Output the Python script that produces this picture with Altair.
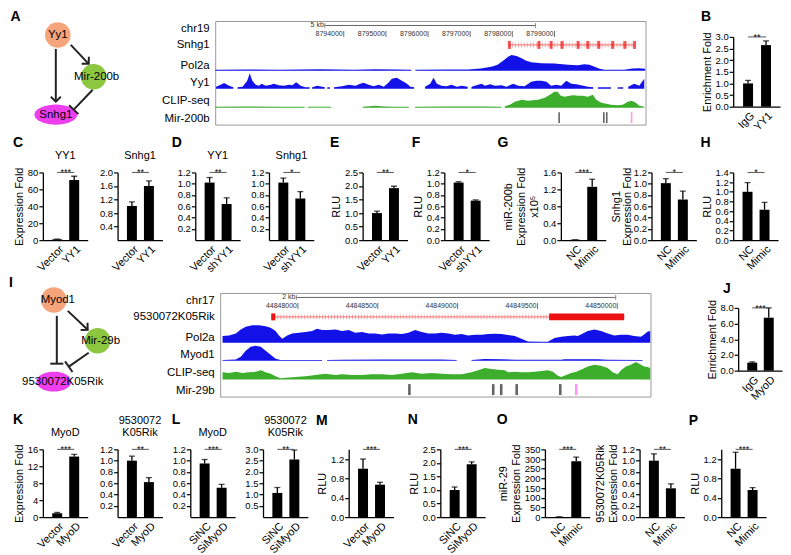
import math
import altair as alt
import pandas as pd

FONT = "Liberation Sans"
BLUE = "#1212e8"
GREEN = "#3cae2c"
RED = "#ee1111"
LIGHTRED = "#f28a8a"
PINK = "#ff66ee"

# ===================== bar-chart panels (mean, sd) =====================
B_cats = ["IgG", "YY1"];       B_vals = [1.0, 2.65];   B_err = [0.13, 0.18]
C1_cats = ["Vector", "YY1"];   C1_vals = [1.0, 71.0];  C1_err = [0.3, 4.5]
C2_cats = ["Vector", "YY1"];   C2_vals = [1.01, 1.60]; C2_err = [0.12, 0.15]
D1_cats = ["Vector", "shYY1"]; D1_vals = [1.02, 0.64]; D1_err = [0.09, 0.11]
D2_cats = ["Vector", "shYY1"]; D2_vals = [1.02, 0.74]; D2_err = [0.08, 0.12]
E_cats = ["Vector", "YY1"];    E_vals = [1.0, 1.92];   E_err = [0.07, 0.07]
F_cats = ["Vector", "shYY1"];  F_vals = [1.02, 0.70];  F_err = [0.015, 0.012]
G1_cats = ["NC", "Mimic"];     G1_vals = [0.01, 1.26]; G1_err = [0.0, 0.18]
G2_cats = ["NC", "Mimic"];     G2_vals = [1.01, 0.72]; G2_err = [0.08, 0.15]
H_cats = ["NC", "Mimic"];      H_vals = [1.0, 0.63];   H_err = [0.19, 0.15]
J_cats = ["IgG", "MyoD"];      J_vals = [1.02, 6.75];  J_err = [0.1, 1.25]
K1_cats = ["Vector", "MyoD"];  K1_vals = [0.9, 14.3];  K1_err = [0.2, 0.5]
K2_cats = ["Vector", "MyoD"];  K2_vals = [1.0, 0.62];  K2_err = [0.08, 0.08]
L1_cats = ["SiNC", "SiMyoD"];  L1_vals = [0.95, 0.52]; L1_err = [0.07, 0.06]
L2_cats = ["SiNC", "SiMyoD"];  L2_vals = [1.07, 2.55]; L2_err = [0.24, 0.42]
M_cats = ["Vector", "MyoD"];   M_vals = [1.0, 0.67];   M_err = [0.2, 0.05]
N_cats = ["SiNC", "SiMyoD"];   N_vals = [1.0, 1.95];   N_err = [0.11, 0.09]
O1_cats = ["NC", "Mimic"];     O1_vals = [1.0, 288.0]; O1_err = [0.5, 22.0]
O2_cats = ["NC", "Mimic"];     O2_vals = [1.0, 0.51];  O2_err = [0.12, 0.08]
P_cats = ["NC", "Mimic"];      P_vals = [1.0, 0.56];   P_err = [0.34, 0.05]

# ===================== network diagrams (diagram units) =====================
A_names = ["Yy1", "Mir-200b", "Snhg1"]
A_x = [49, 85, 47]; A_y = [14, 56, 94]
A_tx = [49, 88, 47]; A_ty = [14, 56, 94]
A_fill = ["#f6a47b", "#8dc63f", "#ee3fee"]
A_shape = ["circle", "circle", "ellipse"]
A_e_x1 = [62, 47, 84]; A_e_y1 = [24, 28, 69]
A_e_x2 = [80, 47, 65]; A_e_y2 = [43, 81, 89]
A_e_kind = ["arrow", "arrow", "bar"]

I_names = ["Myod1", "Mir-29b", "9530072K05Rik"]
I_x = [45, 89, 45]; I_y = [7, 48, 89]
I_tx = [49, 92, 54]; I_ty = [7, 48, 89]
I_fill = ["#f6a47b", "#8dc63f", "#ee3fee"]
I_shape = ["circle", "circle", "ellipse"]
I_e_x1 = [59, 48, 80]; I_e_y1 = [18, 23, 60]
I_e_x2 = [79, 48, 60]; I_e_y2 = [37, 71, 74]
I_e_kind = ["arrow", "bar", "bar"]

# ===================== genome browser 1 (chr19, kb) =====================
W1_start, W1_end = 8790.95, 8801.16
W1_ruler = (8793.55, 8798.55); W1_ruler_text = "5 kb"
W1_coords = [8794.0, 8795.0, 8796.0, 8797.0, 8798.0, 8799.0]
W1_coord_text = ["8794000", "8795000", "8796000", "8797000", "8798000", "8799000"]
W1_gene = (8797.92, 8800.90)
W1_exons = [8797.93, 8798.63, 8798.92, 8799.18, 8799.56, 8799.79, 8800.05, 8800.38, 8800.67, 8800.90]
W1_mir_black = [8799.11, 8800.17, 8800.24]
W1_mir_pink = [8800.83]
W1_names = ["Mir-200b", "CLIP-seq", "Yy1", "Pol2a", "Snhg1", "chr19"]
# signals: segments of (offset kb from window start, height)
W1_pol2a = [
    [(0.0, 1.0), (0.8, 1.3), (1.5, 1.0), (2.5, 1.5), (3.3, 1.0), (3.8, 1.7), (4.3, 1.3), (4.65, 1.0)],
    [(4.75, 1.0), (5.5, 1.2), (6.0, 1.3), (6.3, 2.3), (6.55, 4.0), (6.7, 6.0), (6.83, 10.0), (6.95, 14.0),
     (7.03, 16.0), (7.15, 15.0), (7.27, 12.7), (7.38, 10.0), (7.5, 8.7), (7.74, 7.7), (8.05, 7.3), (8.37, 6.0),
     (8.6, 5.7), (8.76, 6.7), (8.88, 6.0), (9.0, 4.0), (9.12, 2.0), (9.24, 1.0), (9.7, 1.0), (9.9, 2.3),
     (10.05, 2.7), (10.2, 2.0)],
]
W1_yy1 = [
    [(0.02, 2), (0.13, 4), (0.21, 5.7), (0.33, 3), (0.43, 1.5)],
    [(0.53, 1.5), (0.65, 2), (0.76, 8), (0.82, 15.5), (0.88, 8), (0.96, 4), (1.04, 3), (1.10, 5), (1.20, 3),
     (1.32, 4), (1.39, 5), (1.51, 3.5), (1.63, 3), (1.75, 4), (1.83, 3.5), (1.92, 6.5), (2.03, 3), (2.14, 1.5),
     (2.24, 1.5)],
    [(2.30, 1.5), (2.42, 3), (2.60, 1.5)],
    [(2.66, 1.5), (2.72, 1.5)],
    [(2.82, 1.5), (3.01, 2.5), (3.17, 4), (3.33, 3), (3.44, 5), (3.52, 6), (3.64, 4), (3.76, 2.5), (3.88, 4),
     (4.00, 2), (4.11, 6), (4.19, 10), (4.31, 11), (4.39, 9), (4.47, 7), (4.55, 5), (4.63, 2), (4.72, 1.5)],
    [(4.98, 2), (5.10, 5), (5.18, 11), (5.26, 5), (5.37, 3), (5.49, 2.5), (5.61, 4), (5.73, 2), (5.85, 3),
     (5.99, 2)],
    [(6.08, 2), (6.24, 4), (6.32, 5), (6.40, 3), (6.52, 4.5), (6.64, 3), (6.79, 3.5), (6.91, 2), (7.07, 5),
     (7.19, 3), (7.34, 2.5), (7.50, 7), (7.62, 8), (7.74, 8), (7.86, 7), (7.97, 3), (8.09, 4), (8.21, 3),
     (8.33, 8), (8.45, 5), (8.57, 4.5), (8.68, 3.5), (8.84, 2), (8.97, 1.5)],
    [(9.08, 1.5), (9.39, 1.5)],
    [(9.55, 1.5), (9.68, 1.5)],
    [(9.80, 2), (9.94, 5), (10.06, 3), (10.18, 10)],
]
W1_clip = [
    [(0.0, 1), (0.65, 1.3), (0.88, 1.3), (1.5, 1), (2.12, 1)],
    [(2.2, 1), (2.75, 1)],
    [(3.5, 1), (3.80, 2), (4.03, 1.3), (4.27, 1), (4.59, 1)],
    [(4.74, 1), (5.37, 1.3), (5.85, 1.3), (6.40, 1.3), (6.79, 1)],
    [(6.87, 1.5), (6.99, 3), (7.11, 6), (7.27, 8), (7.42, 7), (7.54, 7.5), (7.66, 8), (7.74, 9), (7.82, 10),
     (7.94, 13), (8.05, 16), (8.12, 16), (8.20, 12), (8.29, 11), (8.41, 12), (8.49, 12.5), (8.61, 12),
     (8.72, 12), (8.84, 11), (8.96, 13), (9.04, 8), (9.16, 5), (9.28, 4), (9.39, 3), (9.55, 2.5), (9.67, 3),
     (9.79, 6), (9.88, 7), (9.98, 5), (10.06, 2), (10.18, 1)],
]

# ===================== genome browser 2 (chr17, kb) =====================
W2_start, W2_end = 44847.513, 44850.208
W2_ruler = (44847.99, 44849.99); W2_ruler_text = "2 kb"
W2_coords = [44848.0, 44848.5, 44849.0, 44849.5, 44850.0]
W2_coord_text = ["44848000", "44848500", "44849000", "44849500", "44850000"]
W2_gene = (44847.833, 44850.043)
W2_blocks = [(44847.833, 44847.858), (44849.573, 44850.043)]
W2_mir_black = [44848.698, 44849.223, 44849.273, 44849.370, 44849.643]
W2_mir_pink = [44849.743]
W2_names = ["Mir-29b", "CLIP-seq", "Myod1", "Pol2a", "9530072K05Rik", "chr17"]
W2_pol2a = [[
    (0.015, 6.7), (0.056, 7.3), (0.098, 9.3), (0.129, 13.3), (0.160, 16), (0.202, 17.7), (0.243, 17.7),
    (0.285, 16.7), (0.316, 15), (0.347, 11.7), (0.368, 7.3), (0.389, 4), (0.420, 7.3), (0.451, 9.3),
    (0.493, 10), (0.534, 10.7), (0.576, 11.7), (0.607, 14), (0.638, 12.7), (0.680, 12.7), (0.722, 13.3),
    (0.763, 11.7), (0.805, 12.7), (0.846, 10), (0.888, 10.7), (0.930, 9.3), (0.971, 9.3), (1.013, 8.3),
    (1.054, 9.3), (1.096, 9.3), (1.137, 8.7), (1.179, 10), (1.221, 12.7), (1.262, 10.7), (1.304, 9.3),
    (1.345, 9.3), (1.387, 10), (1.429, 9.3), (1.470, 8), (1.512, 8.7), (1.553, 7.3), (1.595, 8), (1.637, 8),
    (1.678, 8.7), (1.720, 9), (1.761, 8.7), (1.803, 7.7), (1.845, 6.7), (1.886, 4), (1.928, 1.3), (2.011, 1),
    (2.052, 1), (2.094, 4.7), (2.136, 6), (2.177, 6.7), (2.219, 7.3), (2.240, 6.7), (2.271, 9.3), (2.302, 11.7),
    (2.344, 13.3), (2.385, 11.7), (2.427, 9.3), (2.468, 7.3), (2.510, 8), (2.551, 8), (2.593, 6.7),
    (2.635, 6), (2.655, 8.3), (2.676, 11), (2.693, 11.7)]]
W2_myod1 = [
    [(0.015, 0.7), (0.098, 1.3), (0.129, 4), (0.160, 10), (0.191, 14), (0.222, 15), (0.254, 14), (0.285, 10),
     (0.316, 6), (0.347, 2), (0.378, 0.7), (0.638, 0.7)],
    [(0.670, 0.7), (0.763, 1), (1.013, 1.2), (1.179, 1.3), (1.387, 1.2), (1.481, 0.7)],
    [(1.574, 0.7), (1.595, 1), (1.657, 1.7), (1.761, 1.5), (1.845, 1), (2.136, 1), (2.156, 1.5), (2.281, 1.5),
     (2.364, 1.5), (2.427, 1), (2.645, 0.7)],
]
W2_clip = [[
    (0.015, 7.3), (0.056, 6.7), (0.098, 8), (0.139, 6.7), (0.181, 7.3), (0.222, 8), (0.254, 9.3), (0.285, 7.3),
    (0.316, 6), (0.347, 3.3), (0.378, 1.3), (0.410, 2), (0.472, 2.7), (0.534, 3.3), (0.597, 4.7), (0.659, 6),
    (0.722, 4.7), (0.763, 5.3), (0.826, 4.7), (0.888, 4.7), (0.950, 5.3), (1.013, 5.3), (1.075, 4.7),
    (1.137, 6), (1.200, 7.3), (1.262, 6), (1.325, 6.7), (1.387, 6), (1.449, 5.3), (1.512, 5.3), (1.574, 7.3),
    (1.616, 9.3), (1.657, 11.7), (1.699, 10.7), (1.740, 10), (1.782, 9.3), (1.803, 7.3), (1.845, 8),
    (1.886, 7.3), (1.928, 7.3), (1.969, 8), (2.011, 8.7), (2.052, 9.3), (2.084, 8), (2.115, 4), (2.136, 2.7),
    (2.167, 4.7), (2.198, 6.7), (2.229, 8), (2.260, 10), (2.302, 13.3), (2.344, 15), (2.385, 14),
    (2.427, 11.7), (2.458, 7.3), (2.489, 5.3), (2.510, 9.3), (2.541, 13.3), (2.572, 15), (2.603, 17.7),
    (2.624, 16), (2.655, 13.3), (2.676, 12.7), (2.693, 11.7)]]

# ===================== layout constants =====================
TRACK_BASES = [54, 36, 17]
LABEL_Y = [6, 24, 42, 59, 80.5, 96]
RULER_Y, COORD_Y, GENE_Y, MIR_Y = 99.5, 91, 80, 7
CHEVRON = "M -1 1 L 0 0 L 1 1"
TBAR = "M -1 0 L 1 0"
NET_X0 = 34          # left edge of the diagram frame, in diagram units


def ellipse_path(aspect):
    pts = []
    for k in range(36):
        t = 2 * math.pi * k / 36
        pts.append(f"{math.cos(t):.3f} {aspect * math.sin(t):.3f}")
    return "M " + " L ".join(pts) + " Z"


def letter(t, offset=0, dx=0):
    return alt.TitleParams(text=t, fontSize=14, fontWeight="bold", anchor="start",
                           frame="bounds", offset=offset, dx=dx, font=FONT)


def sub_title(t):
    return alt.TitleParams(text=t, fontSize=11, fontWeight="normal", anchor="middle",
                           offset=6, lineHeight=12, font=FONT)


def spacer(w, h=1):
    return alt.Chart(pd.DataFrame({"z": [0]})).mark_point(opacity=0, size=1).encode(
        x=alt.value(0), y=alt.value(0)).properties(width=w, height=h)


def bar_panel(cats, vals, errs, ymax, ticks, fmt, stars, ytitle=None, title=" ",
              width=45, height=68, yrange=None, tparams=None, title_lh=13, title_pad=3):
    df = pd.DataFrame({"i": [0, 1], "v": vals, "top": [v + e for v, e in zip(vals, errs)]})
    sig = pd.DataFrame({"a": [0], "b": [1], "m": [0.5], "y": [ymax], "s": [stars]})
    xs = alt.Scale(domain=[-0.55, 1.5], nice=False, zero=False)
    xa = alt.Axis(values=[0, 1], labelExpr=f"datum.value == 0 ? '{cats[0]}' : '{cats[1]}'",
                  labelAngle=315, title=None, ticks=False, grid=False, labelFontSize=11,
                  labelPadding=3, labelFlush=False, labelOverlap=False, domainWidth=1.3)
    sk = dict(domain=[0, ymax], nice=False, zero=True)
    if yrange is not None:
        sk["range"] = yrange
    ys = alt.Scale(**sk)
    ya = alt.Axis(values=ticks, format=fmt, title=ytitle, grid=False, tickSize=4, tickWidth=1.2,
                  labelPadding=1, labelFontSize=9.5, titleFontSize=11, titlePadding=title_pad,
                  titleLineHeight=title_lh, labelOverlap=False, domainWidth=1.3)

    def X(f):
        return alt.X(f, scale=xs, axis=xa)

    def Y(f):
        return alt.Y(f, scale=ys, axis=ya)

    base = alt.Chart(df)
    bars = base.mark_bar(color="black", size=10).encode(X("i:Q"), Y("v:Q"))
    err = base.mark_rule(color="black", strokeWidth=1.3).encode(X("i:Q"), Y("v:Q"), y2="top:Q")
    cap = base.mark_tick(color="black", orient="horizontal", size=6, thickness=1.3).encode(
        X("i:Q"), Y("top:Q"))
    sb = alt.Chart(sig)
    line = sb.mark_rule(color="#555555", strokeWidth=1).encode(X("a:Q"), Y("y:Q"), x2="b:Q")
    txt = sb.mark_text(baseline="alphabetic", dy=3, fontSize=9, color="black").encode(
        X("m:Q"), Y("y:Q"), text="s:N")
    return alt.layer(bars, err, cap, line, txt).properties(
        width=width, height=height, title=tparams if tparams is not None else sub_title(title))


def network(names, xs_, ys_, txs, tys, fills, shapes, ell_path, ell_size,
            ex1, ey1, ex2, ey2, ekind, width, height, title):
    nodes = pd.DataFrame({"name": names, "x": xs_, "y": ys_, "tx": txs, "ty": tys,
                          "fill": fills, "shp": shapes})
    angs = [math.degrees(math.atan2(b - a, -(d - c))) % 360 for a, b, c, d in zip(ex1, ex2, ey1, ey2)]
    edges = pd.DataFrame({"x1": ex1, "y1": ey1, "x2": ex2, "y2": ey2, "kind": ekind, "ang": angs})
    xsc = alt.Scale(domain=[NET_X0, NET_X0 + width], nice=False, zero=False)
    ysc = alt.Scale(domain=[0, height], nice=False, zero=False, reverse=True)

    def X(f):
        return alt.X(f, scale=xsc, axis=None)

    def Y(f):
        return alt.Y(f, scale=ysc, axis=None)

    circ = alt.Chart(nodes[nodes.shp == "circle"]).mark_point(
        shape="circle", filled=True, size=660, opacity=1).encode(
        X("x:Q"), Y("y:Q"), color=alt.Color("fill:N", scale=None))
    ell = alt.Chart(nodes[nodes.shp == "ellipse"]).mark_point(
        shape=ell_path, filled=True, size=ell_size, opacity=1).encode(
        X("x:Q"), Y("y:Q"), color=alt.Color("fill:N", scale=None))
    lines = alt.Chart(edges).mark_rule(color="#222222", strokeWidth=2).encode(
        X("x1:Q"), Y("y1:Q"), x2="x2:Q", y2="y2:Q")
    heads = alt.Chart(edges[edges.kind == "arrow"]).mark_point(
        shape=CHEVRON, filled=False, size=100, color="#222222", strokeWidth=2, opacity=1).encode(
        X("x2:Q"), Y("y2:Q"), angle=alt.Angle("ang:Q", scale=None))
    tbars = alt.Chart(edges[edges.kind == "bar"]).mark_point(
        shape=TBAR, filled=False, size=170, color="#222222", strokeWidth=2, opacity=1).encode(
        X("x2:Q"), Y("y2:Q"), angle=alt.Angle("ang:Q", scale=None))
    labels = alt.Chart(nodes).mark_text(fontSize=11.5, color="black").encode(
        X("tx:Q"), Y("ty:Q"), text="name:N")
    return alt.layer(lines, circ, ell, heads, tbars, labels).properties(
        width=width, height=height, title=title)


def browser(start, end, ruler, ruler_text, coords, coord_text, gene, exons, blocks,
            tracks, mir_black, mir_pink, mir_thick, names, title):
    xs = alt.Scale(domain=[start, end], nice=False, zero=False)
    ys = alt.Scale(domain=[0, 104], nice=False, zero=False)
    expr = " : ".join(f"datum.value == {v} ? '{n}'" for v, n in zip(LABEL_Y, names)) + " : ''"
    ya = alt.Axis(values=LABEL_Y, labelExpr=expr, domain=False, ticks=False, grid=False, title=None,
                  labelFontSize=11.5, labelPadding=6, labelOverlap=False, labelColor="black")

    def X(f):
        return alt.X(f, scale=xs, axis=None)

    def Y(f):
        return alt.Y(f, scale=ys, axis=ya)

    rows = []
    for ti, (segs, base, col) in enumerate(tracks):
        for si, seg in enumerate(segs):
            for off, h in seg:
                rows.append({"pos": start + off, "top": base + h, "base": base,
                             "seg": f"t{ti}s{si}", "col": col})
    sig = pd.DataFrame(rows)
    areas = alt.Chart(sig).mark_area(interpolate="linear").encode(
        X("pos:Q"), Y("top:Q"), y2="base:Q", detail="seg:N", color=alt.Color("col:N", scale=None))

    rdf = pd.DataFrame({"a": [ruler[0]], "b": [ruler[1]], "y": [RULER_Y], "t": [ruler_text]})
    rline = alt.Chart(rdf).mark_rule(color="#666666", strokeWidth=1).encode(X("a:Q"), Y("y:Q"), x2="b:Q")
    rtdf = pd.DataFrame({"p": list(ruler), "y": [RULER_Y, RULER_Y]})
    rticks = alt.Chart(rtdf).mark_tick(orient="vertical", size=5, thickness=1, color="#666666").encode(
        X("p:Q"), Y("y:Q"))
    rtext = alt.Chart(rdf).mark_text(align="right", dx=-1, fontSize=7, color="#333333").encode(
        X("a:Q"), Y("y:Q"), text="t:N")
    cdf = pd.DataFrame({"p": coords, "y": [COORD_Y] * len(coords), "t": coord_text})
    ctext = alt.Chart(cdf).mark_text(align="right", dx=-1, fontSize=7, color="#333333").encode(
        X("p:Q"), Y("y:Q"), text="t:N")
    cticks = alt.Chart(cdf).mark_tick(orient="vertical", size=6, thickness=1, color="#333333").encode(
        X("p:Q"), Y("y:Q"))

    gdf = pd.DataFrame({"a": [gene[0]], "b": [gene[1]], "y": [GENE_Y]})
    gline = alt.Chart(gdf).mark_rule(color=LIGHTRED, strokeWidth=1.2).encode(X("a:Q"), Y("y:Q"), x2="b:Q")
    ghatch = alt.Chart(gdf).mark_rule(color=LIGHTRED, strokeWidth=5, strokeDash=[1, 2], opacity=0.7).encode(
        X("a:Q"), Y("y:Q"), x2="b:Q")
    layers = [areas, rline, rticks, rtext, ctext, cticks, gline, ghatch]
    if exons:
        edf = pd.DataFrame({"p": exons, "y": [GENE_Y] * len(exons)})
        layers.append(alt.Chart(edf).mark_tick(orient="vertical", size=8, thickness=3, color=RED).encode(
            X("p:Q"), Y("y:Q")))
    if blocks:
        bdf = pd.DataFrame({"a": [b[0] for b in blocks], "b": [b[1] for b in blocks],
                            "y1": [GENE_Y - 3.5] * len(blocks), "y2": [GENE_Y + 3.5] * len(blocks)})
        layers.append(alt.Chart(bdf).mark_rect(color=RED).encode(X("a:Q"), Y("y1:Q"), x2="b:Q", y2="y2:Q"))
    mdf = pd.DataFrame({"p": mir_black + mir_pink, "y": [MIR_Y] * (len(mir_black) + len(mir_pink)),
                        "col": ["#222222"] * len(mir_black) + [PINK] * len(mir_pink)})
    layers.append(alt.Chart(mdf).mark_tick(orient="vertical", size=11, thickness=mir_thick).encode(
        X("p:Q"), Y("y:Q"), color=alt.Color("col:N", scale=None)))
    return alt.layer(*layers).properties(
        width=432, height=104, title=title,
        view=alt.ViewBackground(stroke="#9a9a9a", strokeWidth=1))


# ===================== panels =====================
T12 = [0.2, 0.4, 0.6, 0.8, 1.0, 1.2]
T12z = [0, 0.2, 0.4, 0.6, 0.8, 1.0, 1.2]

A = network(A_names, A_x, A_y, A_tx, A_ty, A_fill, A_shape, ellipse_path(0.47), 1849,
            A_e_x1, A_e_y1, A_e_x2, A_e_y2, A_e_kind, 100, 104, letter("A", offset=-3, dx=-24))
BR1 = browser(W1_start, W1_end, W1_ruler, W1_ruler_text, W1_coords, W1_coord_text, W1_gene,
              W1_exons, [], [(W1_pol2a, TRACK_BASES[0], BLUE), (W1_yy1, TRACK_BASES[1], BLUE),
                             (W1_clip, TRACK_BASES[2], GREEN)],
              W1_mir_black, W1_mir_pink, 1.6, W1_names, letter(" ", offset=-3))
B = bar_panel(B_cats, B_vals, B_err, 3.0, [0, 0.5, 1, 1.5, 2, 2.5, 3], ".1f", "**",
              ytitle="Enrichment Fold", width=47, height=86, yrange=[86, 16],
              tparams=letter("B", offset=-3))

C1 = bar_panel(C1_cats, C1_vals, C1_err, 80, [0, 20, 40, 60, 80], "d", "***", ytitle="Expression Fold", title="YY1")
C2 = bar_panel(C2_cats, C2_vals, C2_err, 2.0, [0.4, 0.8, 1.2, 1.6, 2.0], ".1f", "**", title="Snhg1")
D1 = bar_panel(D1_cats, D1_vals, D1_err, 1.2, T12, ".1f", "**", title="YY1")
D2 = bar_panel(D2_cats, D2_vals, D2_err, 1.2, T12, ".1f", "*", title="Snhg1")
E = bar_panel(E_cats, E_vals, E_err, 2.5, [0, 0.5, 1, 1.5, 2, 2.5], ".1f", "**", ytitle="RLU")
F = bar_panel(F_cats, F_vals, F_err, 1.2, T12z, ".1f", "*", ytitle="RLU")
G1 = bar_panel(G1_cats, G1_vals, G1_err, 1.6, [0, 0.4, 0.8, 1.2, 1.6], ".1f", "***",
               ytitle=["miR-200b", "Expression Fold", "x10⁵"])
G2 = bar_panel(G2_cats, G2_vals, G2_err, 1.2, T12z, ".1f", "*", ytitle=["Snhg1", "Expression Fold"],
               title_lh=11, title_pad=1)
H = bar_panel(H_cats, H_vals, H_err, 1.4, [0, 0.2, 0.4, 0.6, 0.8, 1.0, 1.2, 1.4], ".1f", "*", ytitle="RLU")

I = network(I_names, I_x, I_y, I_tx, I_ty, I_fill, I_shape, ellipse_path(0.57), 1225,
            I_e_x1, I_e_y1, I_e_x2, I_e_y2, I_e_kind, 70, 104, letter("I", offset=-3, dx=-13))
BR2 = browser(W2_start, W2_end, W2_ruler, W2_ruler_text, W2_coords, W2_coord_text, W2_gene,
              [], W2_blocks, [(W2_pol2a, TRACK_BASES[0], BLUE), (W2_myod1, TRACK_BASES[1], BLUE),
                              (W2_clip, TRACK_BASES[2], GREEN)],
              W2_mir_black, W2_mir_pink, 2.6, W2_names, letter(" ", offset=-3))
J = bar_panel(J_cats, J_vals, J_err, 8.0, [0, 2, 4, 6, 8], ".1f", "***",
              ytitle="Enrichment Fold", width=44, height=78, yrange=[78, 15],
              tparams=letter("J", offset=-3, dx=17))

TT = [" ", " "]
K1 = bar_panel(K1_cats, K1_vals, K1_err, 16, [0, 4, 8, 12, 16], "d", "***", ytitle="Expression Fold", title=[" ", "MyoD"])
K2 = bar_panel(K2_cats, K2_vals, K2_err, 1.2, T12, ".1f", "**", title=["9530072", "K05Rik"])
L1 = bar_panel(L1_cats, L1_vals, L1_err, 1.2, T12, ".1f", "***", title=[" ", "MyoD"])
L2 = bar_panel(L2_cats, L2_vals, L2_err, 3.0, [0.5, 1.0, 1.5, 2.0, 2.5, 3.0], ".1f", "**", title=["9530072", "K05Rik"])
M = bar_panel(M_cats, M_vals, M_err, 1.4, [0, 0.4, 0.8, 1.2], ".1f", "***", ytitle="RLU", title=TT)
N = bar_panel(N_cats, N_vals, N_err, 2.5, [0, 0.5, 1, 1.5, 2, 2.5], ".1f", "***", ytitle="RLU", title=TT)
O1 = bar_panel(O1_cats, O1_vals, O1_err, 350, [0, 50, 100, 150, 200, 250, 300, 350], "d", "***",
               ytitle=["miR-29", "Expression Fold"], title=TT)
O2 = bar_panel(O2_cats, O2_vals, O2_err, 1.2, T12z, ".1f", "**",
               ytitle=["9530072K05Rik", "Expression Fold"], title=TT)
P = bar_panel(P_cats, P_vals, P_err, 1.4, [0, 0.4, 0.8, 1.2], ".1f", "***", ytitle="RLU", title=TT)

row1 = alt.hconcat(A, spacer(15), BR1, spacer(52), B, spacing=0)
row2 = alt.hconcat(
    alt.hconcat(C1, C2, spacing=10).properties(title=letter("C")), spacer(6),
    alt.hconcat(D1, D2, spacing=9).properties(title=letter("D", dx=-5)), spacer(13),
    alt.hconcat(E, spacing=0).properties(title=letter("E")), spacer(1),
    alt.hconcat(F, spacing=0).properties(title=letter("F")), spacer(5),
    alt.hconcat(G1, G2, spacing=3).properties(title=letter("G", dx=-5)), spacer(1),
    alt.hconcat(H, spacing=0).properties(title=letter("H")),
    spacing=0)
row3 = alt.hconcat(I, spacer(9), BR2, spacer(52), J, spacing=0)
row4 = alt.hconcat(
    alt.hconcat(K1, K2, spacing=10).properties(title=letter("K", offset=-12)), spacer(6),
    alt.hconcat(L1, L2, spacing=8).properties(title=letter("L", offset=-12)), spacer(5),
    alt.hconcat(M, spacing=0).properties(title=letter("M", offset=-12)), spacer(11),
    alt.hconcat(N, spacing=0).properties(title=letter("N", offset=-12)), spacer(8),
    alt.hconcat(O1, O2, spacing=3).properties(title=letter("O", offset=-12)), spacer(1),
    alt.hconcat(P, spacing=0).properties(title=letter("P", offset=-12)),
    spacing=0)

chart = alt.vconcat(row1, spacer(1, 1), row2, row3, spacer(1, 8), row4, spacing=0).properties(
    padding=0
).configure_view(stroke="transparent").configure_axis(
    labelFont=FONT, titleFont=FONT, domainColor="black", tickColor="black",
    labelColor="black", titleColor="black", titleFontWeight="normal", grid=False
).configure_title(font=FONT).configure_text(font=FONT)

chart.save("out.html", embed_options={"renderer": "svg", "actions": False})
